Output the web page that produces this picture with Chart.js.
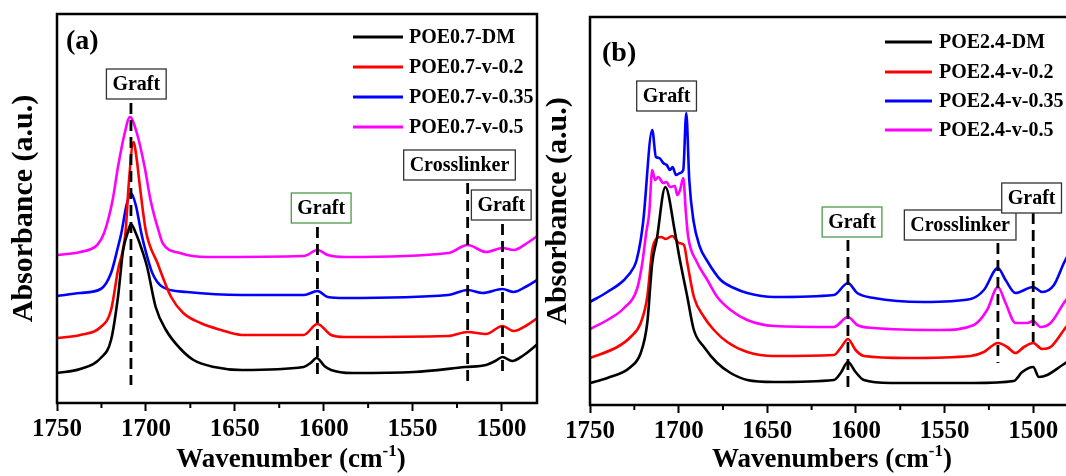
<!DOCTYPE html>
<html>
<head>
<meta charset="utf-8">
<script src="https://cdn.jsdelivr.net/npm/chart.js@4.4.1/dist/chart.umd.min.js"></script>
<style>
  body { margin: 0; background: #fff; }
  #wrap { position: relative; width: 1066px; height: 476px; overflow: hidden; }
  #panelA { position: absolute; left: 0; top: 0; }
  #panelB { position: absolute; left: 540px; top: 0; }
</style>
</head>
<body>
<div id="wrap">
  <canvas id="panelA" width="540" height="476"></canvas>
  <canvas id="panelB" width="526" height="476"></canvas>
</div>
<script>
// ---- panel (a): POE0.7 series (wavenumber / absorbance, offset a.u.) ----
const labelsA = ['POE0.7-DM', 'POE0.7-v-0.2', 'POE0.7-v-0.35', 'POE0.7-v-0.5'];

const a1_wn  = [1750, 1737, 1725.4, 1719.6, 1715.7, 1712.8, 1710.3, 1708.4, 1705.7, 1702.2, 1699.3, 1694.5, 1688.7, 1681, 1673.2, 1661.6, 1646, 1611.3, 1607.4, 1603.9, 1599.6, 1595.8, 1584, 1549.3, 1520.3, 1508.7, 1503.5, 1499.4, 1494, 1487.4, 1479];
const a1_abs = [0.30, 0.34, 0.45, 0.63, 1.06, 1.53, 1.70, 1.79, 1.70, 1.53, 1.36, 0.96, 0.73, 0.55, 0.43, 0.36, 0.33, 0.36, 0.40, 0.45, 0.37, 0.33, 0.30, 0.31, 0.36, 0.38, 0.42, 0.46, 0.42, 0.48, 0.60];

const a2_wn  = [1750, 1737, 1725.4, 1719.6, 1715.7, 1711.5, 1709.6, 1707, 1705.1, 1703.6, 1700, 1693.5, 1685.8, 1679, 1669.3, 1657.7, 1646, 1611.3, 1603.5, 1595.8, 1588, 1530, 1519, 1508.7, 1499.4, 1493.2, 1485.5, 1479];
const a2_abs = [0.65, 0.68, 0.76, 0.93, 1.33, 1.70, 2.20, 2.61, 2.43, 2.20, 1.72, 1.40, 1.06, 0.90, 0.80, 0.73, 0.68, 0.68, 0.79, 0.68, 0.66, 0.67, 0.71, 0.69, 0.77, 0.72, 0.78, 0.86];

const a3_wn  = [1750, 1737, 1725.4, 1719.6, 1715.7, 1713.8, 1710.9, 1708.4, 1705.7, 1702.6, 1700.3, 1696.4, 1690.6, 1677, 1646, 1611, 1603.5, 1597.7, 1588, 1530, 1519, 1510.6, 1499.4, 1493.2, 1485.5, 1479];
const a3_abs = [1.07, 1.10, 1.14, 1.30, 1.56, 1.70, 1.98, 2.10, 1.98, 1.70, 1.53, 1.30, 1.16, 1.11, 1.08, 1.08, 1.12, 1.06, 1.05, 1.08, 1.13, 1.10, 1.14, 1.11, 1.17, 1.24];

const a4_wn  = [1750, 1737, 1727.4, 1723.5, 1718.7, 1715.7, 1711.9, 1709, 1705.1, 1700.7, 1697.4, 1692.5, 1690.6, 1680.9, 1665.4, 1611, 1603.5, 1597.7, 1588, 1530, 1519, 1508.7, 1499.4, 1493.2, 1485.5, 1479];
const a4_abs = [1.48, 1.51, 1.58, 1.70, 2.03, 2.36, 2.70, 2.86, 2.70, 2.36, 2.03, 1.70, 1.60, 1.50, 1.46, 1.47, 1.53, 1.48, 1.46, 1.50, 1.58, 1.51, 1.55, 1.53, 1.60, 1.68];

// ---- panel (b): POE2.4 series ----
const labelsB = ['POE2.4-DM', 'POE2.4-v-0.2', 'POE2.4-v-0.35', 'POE2.4-v-0.5'];

const b1_wn  = [1750, 1740.2, 1727.1, 1721.4, 1717.7, 1714.9, 1712.4, 1707.5, 1702, 1699.5, 1695.1, 1691.4, 1685.7, 1678.2, 1670.7, 1661.3, 1646.2, 1612.4, 1608.6, 1604.5, 1600.2, 1595.5, 1580.4, 1533.5, 1511, 1506.2, 1500, 1496.8, 1492.1, 1483.5, 1481];
const b1_abs = [0.22, 0.27, 0.38, 0.52, 0.82, 1.42, 1.65, 2.18, 1.72, 1.47, 1.08, 0.75, 0.58, 0.42, 0.32, 0.25, 0.23, 0.25, 0.32, 0.43, 0.33, 0.25, 0.22, 0.22, 0.24, 0.33, 0.38, 0.28, 0.30, 0.40, 0.43];

const b2_wn  = [1750, 1734.6, 1727.1, 1721.4, 1717.7, 1714.9, 1712, 1709.8, 1707.3, 1703.6, 1699.8, 1697, 1695.1, 1691.4, 1685.7, 1680.1, 1672.6, 1661.3, 1646.2, 1612.4, 1608.6, 1604.5, 1600.2, 1595.5, 1571, 1535.3, 1527.8, 1519.9, 1514.7, 1510, 1505.2, 1500, 1494.9, 1490.2, 1482.7, 1481];
const b2_abs = [0.47, 0.58, 0.68, 0.82, 1.08, 1.55, 1.67, 1.68, 1.66, 1.69, 1.62, 1.60, 1.42, 1.08, 0.88, 0.75, 0.63, 0.53, 0.49, 0.50, 0.57, 0.66, 0.55, 0.49, 0.47, 0.49, 0.53, 0.62, 0.58, 0.52, 0.58, 0.62, 0.56, 0.58, 0.75, 0.79];

const b3_wn  = [1750, 1740.2, 1730.8, 1725.2, 1723.7, 1721.4, 1719.9, 1714.9, 1712.8, 1710.9, 1708.7, 1706.7, 1704.9, 1703.4, 1701.5, 1699.2, 1697.4, 1695.7, 1694, 1691.7, 1688, 1684.2, 1676.3, 1668.8, 1661.3, 1646.2, 1612.4, 1604.5, 1599.3, 1589.8, 1561.7, 1535.3, 1527.8, 1519.9, 1515.6, 1510, 1500, 1494.9, 1488.3, 1482.7, 1481];
const b3_abs = [1.03, 1.13, 1.25, 1.38, 1.45, 1.65, 1.85, 2.75, 2.48, 2.47, 2.42, 2.40, 2.35, 2.38, 2.30, 2.32, 2.35, 2.92, 2.25, 1.85, 1.58, 1.45, 1.25, 1.17, 1.12, 1.08, 1.10, 1.22, 1.12, 1.07, 1.03, 1.06, 1.15, 1.37, 1.25, 1.12, 1.18, 1.13, 1.20, 1.42, 1.48];

const b4_wn  = [1750, 1740.2, 1730.8, 1723.3, 1720.5, 1718.3, 1716.6, 1714.9, 1713.3, 1711.5, 1708.7, 1706.8, 1704.9, 1702.1, 1700.8, 1699.2, 1697.4, 1695.9, 1694.6, 1690, 1683.8, 1678.2, 1670.7, 1661.3, 1646.2, 1612.4, 1604.5, 1599.3, 1589.8, 1552.3, 1533.5, 1526, 1519.9, 1515.6, 1510, 1503.4, 1500, 1495.9, 1490.2, 1482.7, 1481];
const b4_abs = [0.76, 0.85, 0.97, 1.17, 1.42, 1.72, 1.92, 2.35, 2.25, 2.28, 2.22, 2.23, 2.18, 2.19, 2.10, 2.15, 2.27, 1.92, 1.68, 1.44, 1.25, 1.08, 0.95, 0.85, 0.79, 0.78, 0.88, 0.80, 0.77, 0.75, 0.80, 0.95, 1.18, 1.02, 0.82, 0.82, 0.84, 0.78, 0.82, 1.02, 1.06];

// x-axis ticks
const majorTicks = [1750, 1700, 1650, 1600, 1550, 1500];
const minorTicks = [1725, 1675, 1625, 1575, 1525];

// band markers: label box centre / box top, dashed guide position / extent
const marksA = [
  { text: 'Graft',       boxAt: 1705.4, boxTop: 3.34, line: 1708.4, from: 3.00, to: 0.18, edge: '#333' },
  { text: 'Graft',       boxAt: 1601.4, boxTop: 2.10, line: 1603.5, from: 1.76, to: 0.29, edge: '#4a9a4a' },
  { text: 'Crosslinker', boxAt: 1523.6, boxTop: 2.53, line: 1519.0, from: 2.20, to: 0.22, edge: '#333' },
  { text: 'Graft',       boxAt: 1500.1, boxTop: 2.13, line: 1499.4, from: 1.79, to: 0.31, edge: '#333' }
];
const marksB = [
  { text: 'Graft',       boxAt: 1706.8, boxTop: 3.24, line: null },
  { text: 'Graft',       boxAt: 1602.2, boxTop: 1.98, line: 1604.5, from: 1.65, to: 0.16, edge: '#4a9a4a' },
  { text: 'Crosslinker', boxAt: 1541.2, boxTop: 1.95, line: 1519.9, from: 1.62, to: 0.42, edge: '#333' },
  { text: 'Graft',       boxAt: 1500.9, boxTop: 2.22, line: 1500.0, from: 1.92, to: 0.63, edge: '#333' }
];

const lineColors = ['#000000', '#ff0000', '#0000ff', '#ff00ff'];
const SERIF = "'Liberation Serif', 'Times New Roman', serif";

function pts(wn, abs) {
  return wn.map((w, i) => ({ x: w, y: abs[i] }));
}

// frame, minor ticks, markers, legend, panel tag and x title
const figurePlugin = {
  id: 'figure',
  afterDatasetsDraw(chart, args, opts) {
    const { ctx, scales: { x, y } } = chart;
    ctx.save();
    ctx.strokeStyle = '#000';
    ctx.lineWidth = 2.8;
    ctx.setLineDash([11, 6]);
    opts.marks.forEach(m => {
      if (m.line == null) return;
      const px = x.getPixelForValue(m.line);
      ctx.beginPath();
      ctx.moveTo(px, y.getPixelForValue(m.from));
      ctx.lineTo(px, y.getPixelForValue(m.to));
      ctx.stroke();
    });
    ctx.setLineDash([]);

    ctx.font = `bold 20px ${SERIF}`;
    ctx.textAlign = 'center';
    ctx.textBaseline = 'middle';
    opts.marks.forEach(m => {
      const w = ctx.measureText(m.text).width + 12;
      const cx = x.getPixelForValue(m.boxAt);
      const top = y.getPixelForValue(m.boxTop);
      ctx.fillStyle = '#fff';
      ctx.fillRect(cx - w / 2, top, w, 30);
      ctx.strokeStyle = m.edge || '#333';
      ctx.lineWidth = 1.3;
      ctx.strokeRect(cx - w / 2, top, w, 30);
      ctx.fillStyle = '#000';
      ctx.fillText(m.text, cx, top + 16);
    });
    ctx.restore();
  },
  afterDraw(chart, args, opts) {
    const { ctx, chartArea: ca, scales: { x } } = chart;
    ctx.save();
    // frame
    ctx.strokeStyle = '#000';
    ctx.lineWidth = 2.5;
    ctx.strokeRect(ca.left, ca.top, ca.width + (opts.openRight ? 10 : 0), ca.height);
    // minor ticks
    ctx.lineWidth = 2;
    minorTicks.forEach(v => {
      const px = x.getPixelForValue(v);
      ctx.beginPath();
      ctx.moveTo(px, ca.bottom);
      ctx.lineTo(px, ca.bottom + 5);
      ctx.stroke();
    });
    // legend
    const lg = opts.legend;
    ctx.font = `bold 20px ${SERIF}`;
    ctx.textAlign = 'left';
    ctx.textBaseline = 'middle';
    chart.data.datasets.forEach((ds, i) => {
      const yy = lg.rows[i];
      ctx.strokeStyle = ds.borderColor;
      ctx.lineWidth = 3;
      ctx.beginPath();
      ctx.moveTo(lg.x0, yy);
      ctx.lineTo(lg.x1, yy);
      ctx.stroke();
      ctx.fillStyle = '#000';
      ctx.fillText(ds.label, lg.tx, yy + 1);
    });
    // panel tag
    ctx.font = `bold 28px ${SERIF}`;
    ctx.fillText(opts.tag.text, opts.tag.x, opts.tag.y);
    // x title with superscript
    const t = opts.xTitle;
    ctx.textBaseline = 'alphabetic';
    ctx.font = `bold 27px ${SERIF}`;
    const w1 = ctx.measureText(t.main).width;
    const w3 = ctx.measureText(')').width;
    ctx.font = `bold 17px ${SERIF}`;
    const w2 = ctx.measureText('-1').width;
    let sx = (ca.left + ca.right) / 2 - (w1 + w2 + w3) / 2 + (t.shift || 0);
    ctx.font = `bold 27px ${SERIF}`;
    ctx.fillText(t.main, sx, t.y);
    ctx.font = `bold 17px ${SERIF}`;
    ctx.fillText('-1', sx + w1, t.y - 11);
    ctx.font = `bold 27px ${SERIF}`;
    ctx.fillText(')', sx + w1 + w2, t.y);
    ctx.restore();
  }
};

function makeChart(id, labels, series, cfg) {
  const datasets = series.map((s, i) => ({
    label: labels[i],
    data: pts(s[0], s[1]),
    borderColor: lineColors[i],
    borderWidth: 2.6,
    pointRadius: 0,
    cubicInterpolationMode: 'monotone',
    fill: false
  }));
  return new Chart(document.getElementById(id), {
    type: 'line',
    data: { datasets },
    plugins: [figurePlugin],
    options: {
      responsive: false,
      animation: false,
      devicePixelRatio: 1,
      layout: { padding: { top: cfg.top, right: cfg.right, left: 0, bottom: 0 } },
      plugins: {
        legend: { display: false },
        tooltip: { enabled: false },
        figure: cfg.figure
      },
      scales: {
        x: {
          type: 'linear',
          reverse: true,
          min: cfg.xMin,
          max: 1750,
          border: { display: false },
          grid: { display: true, drawOnChartArea: false, drawTicks: true, tickLength: 8, tickWidth: 2, tickColor: '#000' },
          afterBuildTicks(scale) { scale.ticks = majorTicks.map(v => ({ value: v })); },
          ticks: {
            includeBounds: false,
            autoSkip: false,
            maxRotation: 0,
            padding: 4,
            color: '#000',
            font: { family: SERIF, weight: 'bold', size: 25 },
            callback: v => String(v)
          },
          afterFit(scale) { scale.height = cfg.axisH; }
        },
        y: {
          min: 0,
          max: cfg.yMax,
          border: { display: false },
          grid: { display: false },
          ticks: { display: false },
          title: {
            display: true,
            text: 'Absorbance (a.u.)',
            color: '#000',
            font: { family: SERIF, weight: 'bold', size: 30 },
            padding: { top: cfg.yTitlePad, bottom: 0 }
          },
          afterFit(scale) { scale.width = cfg.left; }
        }
      }
    }
  });
}

makeChart('panelA', labelsA,
  [[a1_wn, a1_abs], [a2_wn, a2_abs], [a3_wn, a3_abs], [a4_wn, a4_abs]],
  {
    top: 14, right: 3, left: 57, axisH: 73, xMin: 1480, yMax: 3.89, yTitlePad: 6,
    figure: {
      marks: marksA,
      openRight: false,
      legend: { x0: 353, x1: 403, tx: 409, rows: [37, 67, 97, 127] },
      tag: { text: '(a)', x: 66, y: 42 },
      xTitle: { main: 'Wavenumber (cm', y: 467, shift: -6 }
    }
  });

makeChart('panelB', labelsB,
  [[b1_wn, b1_abs], [b2_wn, b2_abs], [b3_wn, b3_abs], [b4_wn, b4_abs]],
  {
    top: 17, right: 0, left: 50, axisH: 71, xMin: 1481.5, yMax: 3.88, yTitlePad: 0,
    figure: {
      marks: marksB,
      openRight: true,
      legend: { x0: 345, x1: 392, tx: 399, rows: [42, 72, 101, 130] },
      tag: { text: '(b)', x: 62, y: 54 },
      xTitle: { main: 'Wavenumbers (cm', y: 467, shift: 4 }
    }
  });
</script>
</body>
</html>
